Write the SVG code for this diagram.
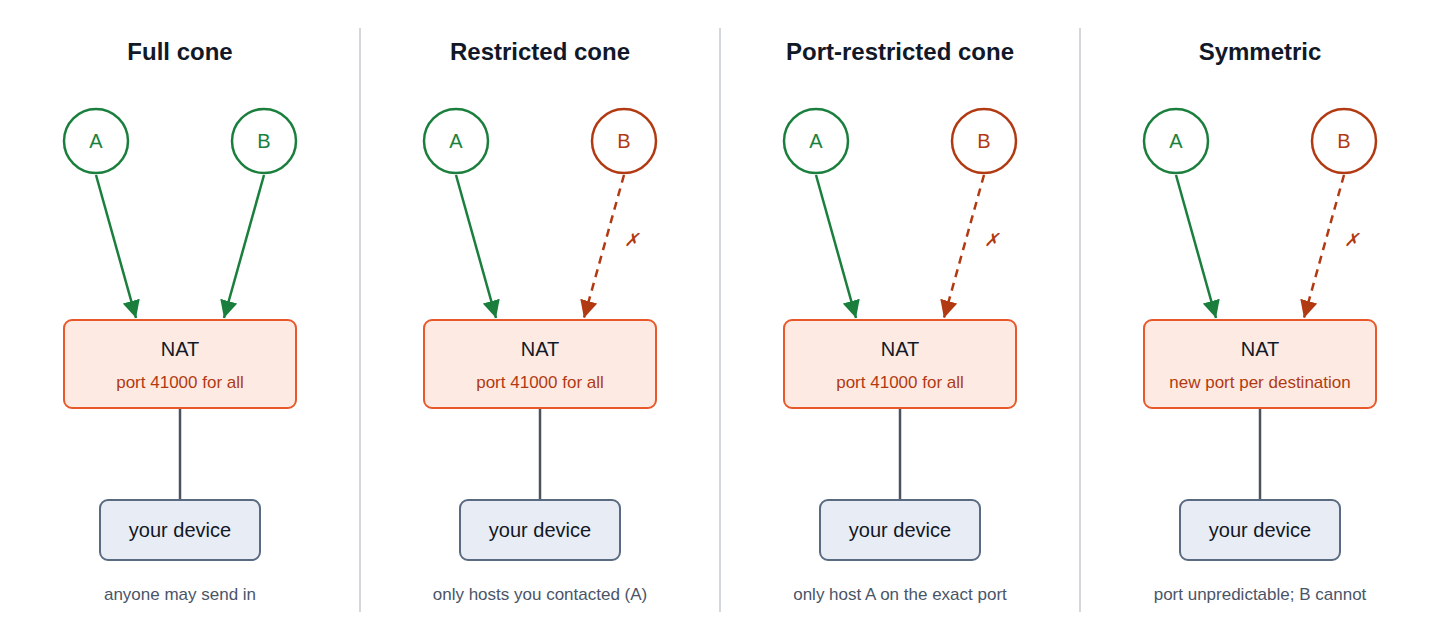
<svg xmlns="http://www.w3.org/2000/svg" width="1440" height="640" viewBox="0 0 1440 640">
<style>
text{font-family:"Helvetica Neue","Liberation Sans",Arial,sans-serif;text-anchor:middle}
.t{font-size:24px;font-weight:bold;fill:#111827}
.div{stroke:#d4d7dc;stroke-width:2}
.hg{fill:#fff;stroke:#1a7f3c;stroke-width:2.5}
.hr{fill:#fff;stroke:#b23a12;stroke-width:2.5}
.lg{font-size:20px;fill:#1a7f3c}
.lr{font-size:20px;fill:#b23a12}
.nat{fill:#fdebe3;stroke:#e8582a;stroke-width:2}
.nt{font-size:20px;fill:#111827}
.ns{font-size:17px;fill:#b23a12}
.dev{fill:#e8edf5;stroke:#5a6a80;stroke-width:2}
.cap{font-size:17px;fill:#4a5568}
.ag{stroke:#1a7f3c;stroke-width:2.5;fill:none;marker-end:url(#mg)}
.ar{stroke:#b23a12;stroke-width:2.5;fill:none;stroke-dasharray:8 6;marker-end:url(#mr)}
.ln{stroke:#4a5260;stroke-width:2.5}
.x{font-size:18px;fill:#b23a12;font-style:italic}
</style>
<defs>
<marker id="mg" viewBox="0 0 10 10" refX="10" refY="5" markerWidth="7" markerHeight="7" markerUnits="strokeWidth" orient="auto"><path d="M0,0L10,5L0,10z" fill="#1a7f3c"/></marker>
<marker id="mr" viewBox="0 0 10 10" refX="10" refY="5" markerWidth="7" markerHeight="7" markerUnits="strokeWidth" orient="auto"><path d="M0,0L10,5L0,10z" fill="#b23a12"/></marker>
</defs>
<g id="dividers">
<line class="div" x1="360" y1="28" x2="360" y2="612"/>
<line class="div" x1="720" y1="28" x2="720" y2="612"/>
<line class="div" x1="1080" y1="28" x2="1080" y2="612"/>
</g>
<g id="connectors">
<path class="ag" d="M96,175L136,318"/>
<path class="ag" d="M264,175L224,318"/>
<line class="ln" x1="180" y1="408" x2="180" y2="500"/>
<path class="ag" d="M456,175L496,318"/>
<path class="ar" d="M624,175L584,318"/>
<text class="x" x="631" y="246">✗</text>
<line class="ln" x1="540" y1="408" x2="540" y2="500"/>
<path class="ag" d="M816,175L856,318"/>
<path class="ar" d="M984,175L944,318"/>
<text class="x" x="991" y="246">✗</text>
<line class="ln" x1="900" y1="408" x2="900" y2="500"/>
<path class="ag" d="M1176,175L1216,318"/>
<path class="ar" d="M1344,175L1304,318"/>
<text class="x" x="1351" y="246">✗</text>
<line class="ln" x1="1260" y1="408" x2="1260" y2="500"/>
</g>
<g id="panel1">
<text class="t" x="180" y="60">Full cone</text>
<g id="p1A"><circle class="hg" cx="96" cy="141" r="32"/><text class="lg" x="96" y="148">A</text></g>
<g id="p1B"><circle class="hg" cx="264" cy="141" r="32"/><text class="lg" x="264" y="148">B</text></g>
<g id="p1NAT"><rect class="nat" x="64" y="320" width="232" height="88" rx="8"/><text class="nt" x="180" y="356">NAT</text><text class="ns" x="180" y="388">port 41000 for all</text></g>
<g id="p1dev"><rect class="dev" x="100" y="500" width="160" height="60" rx="8"/><text class="nt" x="180" y="537">your device</text></g>
<text class="cap" x="180" y="600">anyone may send in</text>
</g>
<g id="panel2">
<text class="t" x="540" y="60">Restricted cone</text>
<g id="p2A"><circle class="hg" cx="456" cy="141" r="32"/><text class="lg" x="456" y="148">A</text></g>
<g id="p2B"><circle class="hr" cx="624" cy="141" r="32"/><text class="lr" x="624" y="148">B</text></g>
<g id="p2NAT"><rect class="nat" x="424" y="320" width="232" height="88" rx="8"/><text class="nt" x="540" y="356">NAT</text><text class="ns" x="540" y="388">port 41000 for all</text></g>
<g id="p2dev"><rect class="dev" x="460" y="500" width="160" height="60" rx="8"/><text class="nt" x="540" y="537">your device</text></g>
<text class="cap" x="540" y="600">only hosts you contacted (A)</text>
</g>
<g id="panel3">
<text class="t" x="900" y="60">Port-restricted cone</text>
<g id="p3A"><circle class="hg" cx="816" cy="141" r="32"/><text class="lg" x="816" y="148">A</text></g>
<g id="p3B"><circle class="hr" cx="984" cy="141" r="32"/><text class="lr" x="984" y="148">B</text></g>
<g id="p3NAT"><rect class="nat" x="784" y="320" width="232" height="88" rx="8"/><text class="nt" x="900" y="356">NAT</text><text class="ns" x="900" y="388">port 41000 for all</text></g>
<g id="p3dev"><rect class="dev" x="820" y="500" width="160" height="60" rx="8"/><text class="nt" x="900" y="537">your device</text></g>
<text class="cap" x="900" y="600">only host A on the exact port</text>
</g>
<g id="panel4">
<text class="t" x="1260" y="60">Symmetric</text>
<g id="p4A"><circle class="hg" cx="1176" cy="141" r="32"/><text class="lg" x="1176" y="148">A</text></g>
<g id="p4B"><circle class="hr" cx="1344" cy="141" r="32"/><text class="lr" x="1344" y="148">B</text></g>
<g id="p4NAT"><rect class="nat" x="1144" y="320" width="232" height="88" rx="8"/><text class="nt" x="1260" y="356">NAT</text><text class="ns" x="1260" y="388">new port per destination</text></g>
<g id="p4dev"><rect class="dev" x="1180" y="500" width="160" height="60" rx="8"/><text class="nt" x="1260" y="537">your device</text></g>
<text class="cap" x="1260" y="600">port unpredictable; B cannot</text>
</g>
</svg>
